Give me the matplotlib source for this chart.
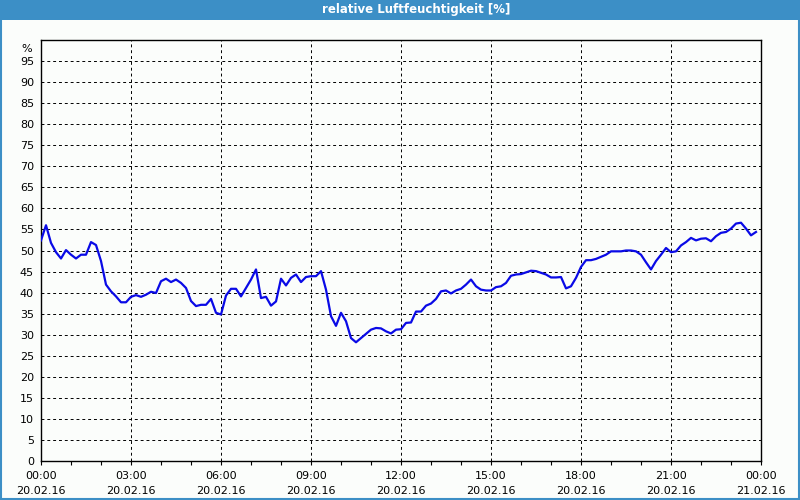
import numpy as np
import matplotlib.pyplot as plt
from matplotlib.patches import Rectangle

# relative humidity, 10-minute readings starting 20.02.16 00:00
humidity = [
    52.4, 56.0, 51.8, 49.6, 48.1, 50.1, 49.0, 48.1, 49.0, 49.0,
    52.0, 51.3, 47.5, 41.9, 40.3, 39.1, 37.7, 37.7, 39.0, 39.4,
    39.0, 39.5, 40.2, 39.9, 42.7, 43.3, 42.5, 43.1, 42.3, 41.1,
    38.0, 36.8, 37.1, 37.1, 38.5, 35.2, 34.8, 39.3, 40.9, 40.9,
    39.1, 41.1, 43.1, 45.5, 38.7, 39.0, 36.9, 37.9, 43.3, 41.7,
    43.5, 44.3, 42.5, 43.7, 43.9, 43.9, 45.1, 40.7, 34.4, 32.1,
    35.2, 33.2, 29.2, 28.2, 29.2, 30.2, 31.2, 31.6, 31.5, 30.8,
    30.3, 31.2, 31.3, 32.8, 32.9, 35.5, 35.5, 36.9, 37.4, 38.5,
    40.3, 40.5, 39.8, 40.5, 40.9, 41.9, 43.1, 41.5, 40.7, 40.5,
    40.5, 41.3, 41.5, 42.3, 44.0, 44.3, 44.4, 44.8, 45.2, 45.1,
    44.7, 44.3, 43.6, 43.6, 43.7, 41.0, 41.5, 43.5, 46.1, 47.7,
    47.7, 48.0, 48.5, 49.0, 49.8, 49.8, 49.8, 50.0, 50.0, 49.8,
    49.0, 47.2, 45.5, 47.5, 49.0, 50.6, 49.6, 49.8, 51.2, 52.0,
    53.0, 52.4, 52.8, 52.9, 52.2, 53.4, 54.2, 54.4, 55.2, 56.4,
    56.6, 55.2, 53.6, 54.4,
]
step_minutes = 10
hours = np.arange(len(humidity)) * step_minutes / 60.0

x_ticks = [0, 3, 6, 9, 12, 15, 18, 21, 24]
x_labels = ['00:00\n20.02.16', '03:00\n20.02.16', '06:00\n20.02.16',
            '09:00\n20.02.16', '12:00\n20.02.16', '15:00\n20.02.16',
            '18:00\n20.02.16', '21:00\n20.02.16', '00:00\n21.02.16']
y_ticks = list(range(0, 100, 5))
title = 'relative Luftfeuchtigkeit [%]'

bg = '#fbfdfb'
frame_blue = '#3c8fc6'

fig = plt.figure(figsize=(8, 5), dpi=100, facecolor=bg)

# title bar and window border
fig.patches.append(Rectangle((0, 0.96), 1, 0.04, transform=fig.transFigure,
                             facecolor=frame_blue, edgecolor='none', zorder=0))
fig.patches.append(Rectangle((0.001, 0.002), 0.998, 0.996, transform=fig.transFigure,
                             facecolor='none', edgecolor=frame_blue, linewidth=1.5, zorder=0))
fig.text(0.52, 0.98, title, color='white', fontsize=8.5, fontweight='bold',
         ha='center', va='center')

ax = fig.add_axes([41/800, 39/500, 720/800, 421/500])
ax.set_facecolor(bg)
ax.plot(hours, humidity, color='#0a0ae6', linewidth=1.6, zorder=3)

ax.set_xlim(0, 24)
ax.set_ylim(0, 100)
ax.set_xticks(x_ticks)
ax.set_xticklabels(x_labels, fontsize=8, linespacing=1.6)
ax.set_xticks(range(25), minor=True)
ax.set_yticks(y_ticks)
ax.set_yticklabels([str(v) for v in y_ticks], fontsize=8)
ax.tick_params(axis='x', which='both', direction='out', length=3, width=0.8, pad=4)
ax.tick_params(axis='y', length=0, pad=5)

ax.grid(True, which='major', color='black', linestyle=(0, (3, 3)), linewidth=0.7)
for s in ax.spines.values():
    s.set_linewidth(1.0)
    s.set_color('black')

ax.text(-0.012, 0.99, '%', transform=ax.transAxes, fontsize=8, ha='right', va='top')

fig.savefig('out.png', dpi=100, facecolor=bg)
